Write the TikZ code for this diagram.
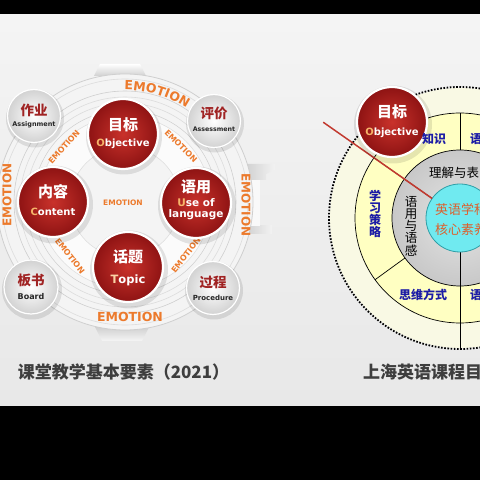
\documentclass[tikz,border=0pt]{standalone}
\usepackage{fontspec}
\setmainfont{DejaVu Sans}
\newfontfamily\cjk{Noto Sans CJK SC}
\usetikzlibrary{calc,decorations.text}
\definecolor{bgT}{HTML}{F4F4F4}
\definecolor{bgB}{HTML}{E8E8E8}
\definecolor{plate}{HTML}{F4F4F4}
\definecolor{ringA}{HTML}{CFCFCF}
\definecolor{ringB}{HTML}{DCDCDC}
\definecolor{emo}{HTML}{EC7A2C}
\definecolor{redIn}{HTML}{C9322B}
\definecolor{redOut}{HTML}{8E1313}
\definecolor{whOut}{HTML}{D2D2D2}
\definecolor{zhRed}{HTML}{A02323}
\definecolor{capO}{HTML}{F6B56A}
\definecolor{titleG}{HTML}{3E3E3E}
\definecolor{yel}{HTML}{FFFFC2}
\definecolor{haloY}{HTML}{F9F9E4}
\definecolor{grIn}{HTML}{E4E4E4}
\definecolor{grOut}{HTML}{C8C8C8}
\definecolor{cyanF}{HTML}{70EAF0}
\definecolor{cyanD}{HTML}{2E9EA6}
\definecolor{blueT}{HTML}{1C1CA6}
\definecolor{coreT}{HTML}{DD5F2C}
\definecolor{lineR}{HTML}{C23A30}
\definecolor{tabG}{HTML}{D0D0D0}
\begin{document}
\begin{tikzpicture}[x=1pt,y=1pt,
  redball/.style={inner color=redIn, outer color=redOut},
  whiteball/.style={inner color=white, outer color=whOut},
  shadowc/.style={fill=black, opacity=0.10},
  zhW/.style={text=white, font=\cjk\bfseries\fontsize{15}{15}\selectfont, inner sep=0pt},
  enW/.style={text=white, font=\bfseries\fontsize{#1}{11}\selectfont, inner sep=0pt, align=center},
  zhR/.style={text=zhRed, font=\cjk\bfseries\fontsize{13.5}{14}\selectfont, inner sep=0pt},
  enB/.style={text=black!85, font=\bfseries\fontsize{#1}{#1}\selectfont, inner sep=0pt},
  emotxt/.style={text=emo, font=\bfseries\fontsize{#1}{#1}\selectfont, inner sep=0pt},
  blueL/.style={text=blueT, font=\cjk\bfseries\fontsize{12}{12.2}\selectfont, inner sep=0pt, align=center},
  blackL/.style={text=black, font=\cjk\fontsize{12.5}{12.2}\selectfont, inner sep=0pt, align=center},
  coreL/.style={text=coreT, font=\cjk\fontsize{13}{13}\selectfont, inner sep=0pt},
  titleL/.style={text=titleG, font=\cjk\bfseries\fontsize{17}{17}\selectfont, inner sep=0pt}
]
\useasboundingbox (0,0) rectangle (480,480);
\fill[black] (0,0) rectangle (480,480);
\shade[top color=bgT, bottom color=bgB] (0,74) rectangle (480,465);
\begin{scope}
\clip (0,74) rectangle (480,465);
% ---------- left frame ----------
\coordinate (L) at (125,278);
\shade[top color=white, bottom color=tabG] (100,416) -- (140,416) -- (146,404) -- (94,404) -- cycle;
\shade[top color=tabG, bottom color=white!92!gray] (95,153) -- (149,153) -- (142,139) -- (102,139) -- cycle;
\shade[left color=tabG, right color=white!90!gray] (245,316) -- (275,316) -- (275,310) -- (266,306) -- (266,300) -- (245,300) -- cycle;
\shade[left color=tabG, right color=white!90!gray] (245,254) -- (272,254) -- (272,246) -- (245,246) -- cycle;
\fill[white!95!gray] (245,300) rectangle (260,254);
\fill[plate] (L) circle (128);
\draw[ringA, line width=0.8pt] (L) circle (128);
\draw[ringB, line width=0.6pt] (L) circle (123);
\draw[ringA, line width=0.6pt] (L) circle (111);
\draw[ringB, line width=0.6pt] (L) circle (105);
\draw[ringB, line width=0.6pt] (L) circle (99);
\fill[white!92!gray] (L) circle (92);
\draw[ringA, line width=0.5pt] (L) circle (92);
\fill[white!97!gray] (L) circle (86);
\draw[ringB, line width=0.5pt] (L) circle (86);
\fill[white!91!gray] (L) circle (55);
\draw[ringB, line width=0.5pt] (L) circle (55);
% EMOTION labels
\path[decorate, decoration={text along path, text align=center,
  text={|\bfseries\fontsize{12.5}{12.5}\selectfont\color{emo}|EMOTION}}]
  ($(L)+(92:112)$) arc[start angle=92, end angle=55, radius=112];
\node[emotxt=12, rotate=90] (emoL) at (7,285) {EMOTION};
\node[emotxt=12, rotate=-90] (emoR) at (246,275) {EMOTION};
\node[emotxt=12.5] (emoB) at (130,163) {EMOTION};
\node[emotxt=8, rotate=48] (emo1) at (64,333) {EMOTION};
\node[emotxt=8, rotate=-45] (emo2) at (181,334) {EMOTION};
\node[emotxt=8, rotate=-52] (emo3) at (70,224) {EMOTION};
\node[emotxt=8, rotate=52] (emo4) at (186,225) {EMOTION};
\node[emotxt=7.5] (emo5) at (123,277) {EMOTION};
% shadows
\foreach \x/\y/\r in {123/346/38,53/278/39,196/277/39,128/213/39,34/364/29,214/359/29,31/193/30,213/192/29} {
  \fill[shadowc] (\x+1,\y-2.5) circle (\r);
}
% balls
\foreach \x/\y in {123/346,53/278,196/277,128/213} {
  \shade[redball] (\x,\y) circle (35);
  \draw[white, line width=2.2pt] (\x,\y) circle (35);
}
\foreach \x/\y/\r in {34/364/26.5,214/359/26.5,31/193/27,213/192/26.5} {
  \shade[whiteball] (\x,\y) circle (\r);
  \draw[white, line width=1.2pt] (\x,\y) circle (\r);
}
% red ball texts
\node[zhW] (objzh) at (123,355) {目标};
\node[enW=10] (objen) at (123,336) {\textcolor{capO}{O}bjective};
\node[zhW] (conzh) at (53,288) {内容};
\node[enW=10] (conen) at (53,268) {\textcolor{capO}{C}ontent};
\node[zhW] (usezh) at (196,293) {语用};
\node[enW=10.5] (useen) at (196,271) {\textcolor{capO}{U}se of\\language};
\node[zhW] (topzh) at (128,223) {话题};
\node[enW=11.5] (topen) at (128,200) {\textcolor{capO!60!white}{T}opic};
% white ball texts
\node[zhR] (asgzh) at (34,370) {作业};
\node[enB=6.5] (asgen) at (34,355) {Assignment};
\node[zhR] (asszh) at (214,367) {评价};
\node[enB=6.3] (assen) at (214,351) {Assessment};
\node[zhR] (brdzh) at (31,200) {板书};
\node[enB=8] (brden) at (31,183) {Board};
\node[zhR] (prczh) at (213,198) {过程};
\node[enB=7] (prcen) at (213,182) {Procedure};
% ---------- right diagram ----------
\coordinate (R) at (460,262);
\fill[haloY] (R) circle (130);
\fill[yel] (R) circle (105);
\draw[black, line width=0.7pt] (R) circle (105);
\shade[inner color=grIn, outer color=grOut] (R) circle (68);
\draw[black, line width=0.7pt] (R) circle (68);
\draw[black, line width=0.7pt] ($(R)+(90:68)$) -- ($(R)+(90:105)$);
\draw[black, line width=0.7pt] ($(R)+(216:68)$) -- ($(R)+(216:105)$);
\draw[black, line width=0.7pt] ($(R)+(145:34)$) -- ($(R)+(145:105)$);
\draw[black, line width=0.7pt] ($(R)+(270:34)$) -- ($(R)+(270:131)$);
\fill[cyanF] (R) circle (34);
\draw[cyanD, line width=0.8pt] (R) circle (34);
\draw[line width=1.8pt, dash pattern=on 1.6pt off 1.6pt] (R) circle (131);
\coordinate (rl) at ($(R)+(145:167)$);
\draw[lineR, line width=1.5pt] (rl) -- ($(R)+(145:34)$);
\fill[shadowc] (393,355.5) circle (39);
\shade[redball] (392,358) circle (35);
\draw[white, line width=2.2pt] (392,358) circle (35);
\node[coreL, anchor=west] (core1) at (435,270) {英语学科};
\node[coreL, anchor=west] (core2) at (435,250) {核心素养};
\node[blueL] (zs) at (434,341) {知识};
\node[blueL] (yy1) at (476,341) {语};
\node[blackL, anchor=west] (ljb) at (429,307) {理解与表};
\node[blueL] (xxcl) at (375,266) {学\\习\\策\\略};
\node[blackL] (yyyg) at (411,254) {语\\用\\与\\语\\感};
\node[blueL] (swfs) at (423,185) {思维方式};
\node[blueL] (yy2) at (476,185) {语};
\node[zhW] (obj2zh) at (392,368) {目标};
\node[enW=10] (obj2en) at (392,347) {\textcolor{capO}{O}bjective};
% titles
\node[titleL] (t1) at (123.5,108) {课堂教学基本要素（2021）};
\node[titleL, anchor=west] (t2) at (363,108) {上海英语课程目};
\end{scope}
\end{tikzpicture}
\end{document}
